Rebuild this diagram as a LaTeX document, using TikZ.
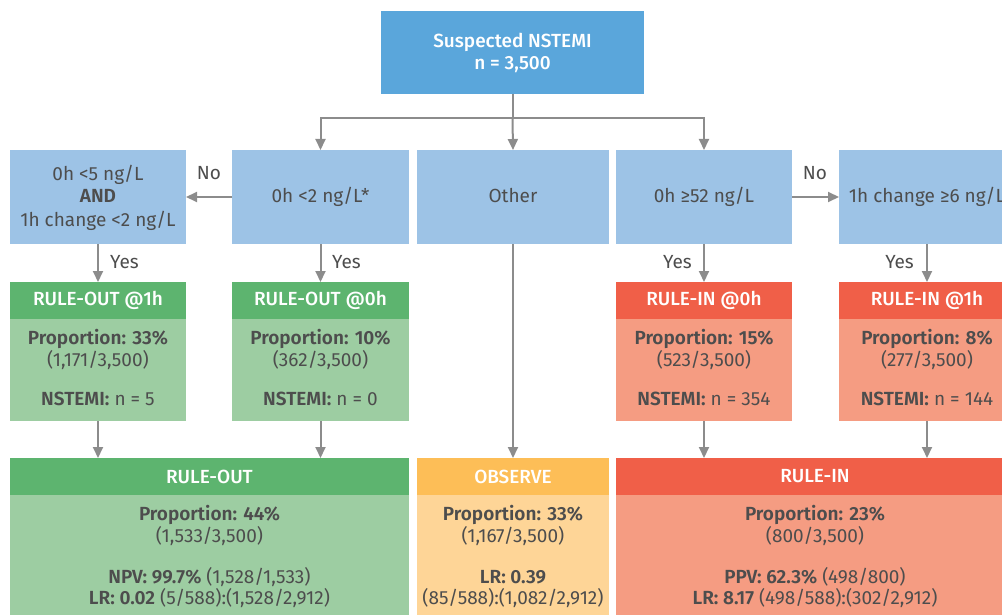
\documentclass[tikz,border=0pt]{standalone}
\usepackage{fontspec}
\setmainfont{Fira Sans}[BoldFont={Fira Sans SemiBold}]
\newfontfamily\medfont{Fira Sans Medium}
\usetikzlibrary{arrows.meta}
\definecolor{topblue}{HTML}{5AA6DB}
\definecolor{qblue}{HTML}{9DC3E6}
\definecolor{dgreen}{HTML}{5DB46F}
\definecolor{lgreen}{HTML}{9DCDA2}
\definecolor{dorange}{HTML}{FDBE57}
\definecolor{lorange}{HTML}{FED597}
\definecolor{dred}{HTML}{F05F48}
\definecolor{lred}{HTML}{F59C82}
\definecolor{agray}{HTML}{8C8C8C}
\definecolor{tgray}{HTML}{4D4D4D}
\newcommand\myfs{\fontsize{19}{23}\selectfont}
\begin{document}
\begin{tikzpicture}[x=1pt,y=-1pt,
  boxbase/.style={rectangle,inner sep=0pt,outer sep=0pt,draw=none},
  qbox/.style={boxbase,fill=qblue,minimum height=94pt},
  hdr/.style={boxbase,minimum height=37pt,text=white,font=\medfont\myfs},
  txt/.style={anchor=base,text=tgray,inner sep=0pt,font=\myfs},
  wtxt/.style={anchor=base,text=white,inner sep=0pt,font=\medfont\myfs},
  arr/.style={draw=agray,line width=2pt,-{Triangle[width=10pt,length=11pt]}},
  ln/.style={draw=agray,line width=2pt}]
\useasboundingbox (0,0) rectangle (1002,615);
\clip (0,0) rectangle (1002,615);
% top
\node[boxbase,fill=topblue,minimum width=263pt,minimum height=83pt] (top) at (512.5,52.5) {};
\node[wtxt] (t1) at (512.5,47.5) {Suspected NSTEMI};
\node[wtxt] (t2) at (512.5,70) {n = 3,500};
% row 2
\node[qbox,minimum width=176pt] (qa) at (98,197) {};
\node[qbox,minimum width=177pt] (qb) at (320.5,197) {};
\node[qbox,minimum width=192pt] (oth) at (513,197) {};
\node[qbox,minimum width=176pt] (qd) at (704,197) {};
\node[qbox,minimum width=176pt] (qe) at (927,197) {};
\node[txt] (qa1) at (98,181) {0h <5 ng/L};
\node[txt] (qa2) at (98,203) {\textbf{AND}};
\node[txt] (qa3) at (98,226) {1h change <2 ng/L};
\node[txt] (qb1) at (320.5,203) {0h <2 ng/L*};
\node[txt] (oth1) at (513,203) {Other};
\node[txt] (qd1) at (704,203) {0h ≥52 ng/L};
\node[txt] (qe1) at (927,203) {1h change ≥6 ng/L};
% branch
\coordinate (br) at (512.5,118);
\draw[ln] (top.south) -- (br);
\draw[arr] (br) -| (qb.north);
\draw[arr] (br) -| (qd.north);
\draw[arr] (br) -- (oth.north);
% No arrows
\draw[arr] (qb.west) -- (qa.east);
\draw[arr] (qd.east) -- (qe.west);
\node[txt] (no1) at (209,180) {No};
\node[txt] (no2) at (815,180) {No};
% row 3
\node[hdr,fill=dgreen,minimum width=176pt] (h1) at (98,300.5) {RULE-OUT @1h};
\node[hdr,fill=dgreen,minimum width=177pt] (h2) at (320.5,300.5) {RULE-OUT @0h};
\node[hdr,fill=dred,minimum width=176pt] (h3) at (704,300.5) {RULE-IN @0h};
\node[hdr,fill=dred,minimum width=176pt] (h4) at (927,300.5) {RULE-IN @1h};
\node[boxbase,fill=lgreen,minimum width=176pt,minimum height=102pt] (b1) at (98,370) {};
\node[boxbase,fill=lgreen,minimum width=177pt,minimum height=102pt] (b2) at (320.5,370) {};
\node[boxbase,fill=lred,minimum width=176pt,minimum height=102pt] (b3) at (704,370) {};
\node[boxbase,fill=lred,minimum width=176pt,minimum height=102pt] (b4) at (927,370) {};
% yes arrows
\draw[arr] (qa.south) -- (h1.north);
\draw[arr] (qb.south) -- (h2.north);
\draw[arr] (qd.south) -- (h3.north);
\draw[arr] (qe.south) -- (h4.north);
\node[txt,anchor=base west] (y1) at (110,268) {Yes};
\node[txt,anchor=base west] (y2) at (332,268) {Yes};
\node[txt,anchor=base east] (y3) at (692,268) {Yes};
\node[txt,anchor=base east] (y4) at (914,268) {Yes};
% row 3 texts
\node[txt] (b1a) at (98,344) {\textbf{Proportion: 33\%}};
\node[txt] (b1b) at (98,366) {(1,171/3,500)};
\node[txt] (b1c) at (98,405) {\textbf{NSTEMI:} n = 5};
\node[txt] (b2a) at (320.5,344) {\textbf{Proportion: 10\%}};
\node[txt] (b2b) at (320.5,366) {(362/3,500)};
\node[txt] (b2c) at (320.5,405) {\textbf{NSTEMI:} n = 0};
\node[txt] (b3a) at (704,344) {\textbf{Proportion: 15\%}};
\node[txt] (b3b) at (704,366) {(523/3,500)};
\node[txt] (b3c) at (704,405) {\textbf{NSTEMI:} n = 354};
\node[txt] (b4a) at (927,344) {\textbf{Proportion: 8\%}};
\node[txt] (b4b) at (927,366) {(277/3,500)};
\node[txt] (b4c) at (927,405) {\textbf{NSTEMI:} n = 144};
% row 4
\node[hdr,fill=dgreen,minimum width=399pt] (ro) at (209.5,476.5) {RULE-OUT};
\node[hdr,fill=dorange,minimum width=192pt] (ob) at (513,476.5) {OBSERVE};
\node[hdr,fill=dred,minimum width=398pt] (ri) at (815,476.5) {RULE-IN};
\node[boxbase,fill=lgreen,minimum width=399pt,minimum height=120pt] (rob) at (209.5,555) {};
\node[boxbase,fill=lorange,minimum width=192pt,minimum height=120pt] (obb) at (513,555) {};
\node[boxbase,fill=lred,minimum width=398pt,minimum height=120pt] (rib) at (815,555) {};
% row 4 arrows
\draw[arr] (b1.south) -- (b1.south |- ro.north);
\draw[arr] (b2.south) -- (b2.south |- ro.north);
\draw[arr] (oth.south) -- (ob.north);
\draw[arr] (b3.south) -- (b3.south |- ri.north);
\draw[arr] (b4.south) -- (b4.south |- ri.north);
% row 4 texts
\node[txt] (ro1) at (209.5,520) {\textbf{Proportion: 44\%}};
\node[txt] (ro2) at (209.5,542) {(1,533/3,500)};
\node[txt] (ro3) at (209.5,583) {\textbf{NPV: 99.7\%} (1,528/1,533)};
\node[txt] (ro4) at (209.5,604) {\textbf{LR: 0.02} (5/588):(1,528/2,912)};
\node[txt] (ob1) at (513,520) {\textbf{Proportion: 33\%}};
\node[txt] (ob2) at (513,542) {(1,167/3,500)};
\node[txt] (ob3) at (513,583) {\textbf{LR: 0.39}};
\node[txt] (ob4) at (513,604) {(85/588):(1,082/2,912)};
\node[txt] (ri1) at (815,520) {\textbf{Proportion: 23\%}};
\node[txt] (ri2) at (815,542) {(800/3,500)};
\node[txt] (ri3) at (815,583) {\textbf{PPV: 62.3\%} (498/800)};
\node[txt] (ri4) at (815,604) {\textbf{LR: 8.17} (498/588):(302/2,912)};
\end{tikzpicture}
\end{document}
